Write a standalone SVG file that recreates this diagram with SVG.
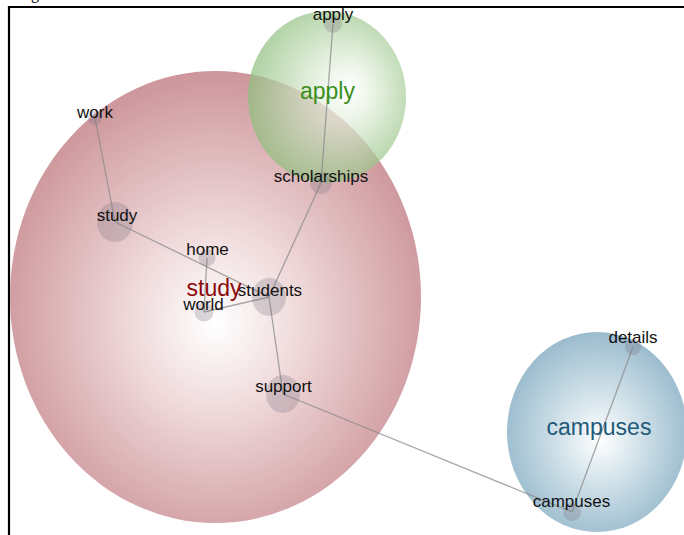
<svg xmlns="http://www.w3.org/2000/svg" width="684" height="535" viewBox="0 0 684 535">
<style>
.lbl{font-family:"Liberation Sans",Arial,sans-serif;font-size:17px;fill:#111;text-anchor:middle}
.clbl{font-family:"Liberation Sans",Arial,sans-serif;font-size:23px;text-anchor:middle}
.node{fill:#7a7280;fill-opacity:0.28}
.edge{stroke:#8a8a8a;stroke-opacity:0.75;stroke-width:1.3;fill:none}
</style>
<defs>
<radialGradient id="gRed" cx="50%" cy="54%" r="55%" fx="50%" fy="56%">
<stop offset="0" stop-color="#ffffff"/>
<stop offset="0.35" stop-color="#f0dadb"/>
<stop offset="1" stop-color="#c98e93"/>
</radialGradient>
<radialGradient id="gGreen" cx="55%" cy="48%" r="55%" fx="65%" fy="46%">
<stop offset="0" stop-color="#ffffff"/>
<stop offset="0.3" stop-color="#e4f0de"/>
<stop offset="1" stop-color="#8fbf7e"/>
</radialGradient>
<radialGradient id="gBlue" cx="50%" cy="52%" r="55%" fx="52%" fy="54%">
<stop offset="0" stop-color="#ffffff"/>
<stop offset="0.3" stop-color="#dce9ef"/>
<stop offset="1" stop-color="#8fb4c8"/>
</radialGradient>
</defs>
<rect width="684" height="535" fill="#ffffff"/>
<text x="31" y="-1.5" font-family="Liberation Serif,serif" font-size="16" fill="#000">g</text>
<path d="M9,535 V7 H684" fill="none" stroke="#000" stroke-width="2.2"/>

<g id="cluster-study">
<ellipse cx="215.5" cy="297" rx="205.5" ry="226" fill="url(#gRed)" fill-opacity="0.95"/>
</g>
<g id="cluster-apply">
<ellipse cx="327" cy="97" rx="79" ry="86" fill="url(#gGreen)" fill-opacity="0.72"/>
</g>
<g id="cluster-campuses">
<ellipse cx="597" cy="432" rx="90" ry="100" fill="url(#gBlue)" fill-opacity="0.95"/>
</g>

<g id="connectors">
<line class="edge" x1="95" y1="118" x2="115" y2="222"/>
<line class="edge" x1="115" y1="222" x2="269" y2="297"/>
<line class="edge" x1="207" y1="258" x2="204" y2="312"/>
<line class="edge" x1="204" y1="312" x2="269" y2="297"/>
<line class="edge" x1="269" y1="297" x2="321" y2="183"/>
<line class="edge" x1="321" y1="183" x2="333" y2="24"/>
<line class="edge" x1="269" y1="297" x2="283" y2="394"/>
<line class="edge" x1="283" y1="394" x2="572" y2="512"/>
<line class="edge" x1="572" y1="512" x2="633" y2="347"/>
</g>

<g id="node-apply"><circle class="node" cx="333" cy="24" r="9"/><text class="lbl" x="333" y="20">apply</text></g>
<g id="node-work"><circle class="node" cx="95" cy="118" r="7"/><text class="lbl" x="95" y="118">work</text></g>
<g id="node-study"><ellipse class="node" cx="115" cy="222" rx="18" ry="20"/><text class="lbl" x="117" y="221">study</text></g>
<g id="node-home"><circle class="node" cx="207" cy="258" r="8.5"/><text class="lbl" x="207.5" y="255">home</text></g>
<g id="node-world"><circle class="node" cx="204" cy="312" r="9.5"/><text class="lbl" x="203.5" y="310">world</text></g>
<g id="node-students"><ellipse class="node" cx="269" cy="297" rx="17" ry="19"/><text class="lbl" x="270" y="296">students</text></g>
<g id="node-scholarships"><circle class="node" cx="321" cy="183" r="11"/><text class="lbl" x="321" y="182">scholarships</text></g>
<g id="node-support"><ellipse class="node" cx="283" cy="394" rx="17" ry="19"/><text class="lbl" x="283.5" y="392">support</text></g>
<g id="node-details"><circle class="node" cx="633" cy="347" r="8"/><text class="lbl" x="633" y="343">details</text></g>
<g id="node-campuses"><circle class="node" cx="572" cy="512" r="9"/><text class="lbl" x="571.5" y="507">campuses</text></g>

<g id="cluster-labels">
<text class="clbl" x="327.5" y="99" fill="#3a8f1c">apply</text>
<text class="clbl" x="214" y="296" fill="#8b0a0a">study</text>
<text class="clbl" x="599" y="435" fill="#1d5a78">campuses</text>
</g>
</svg>
